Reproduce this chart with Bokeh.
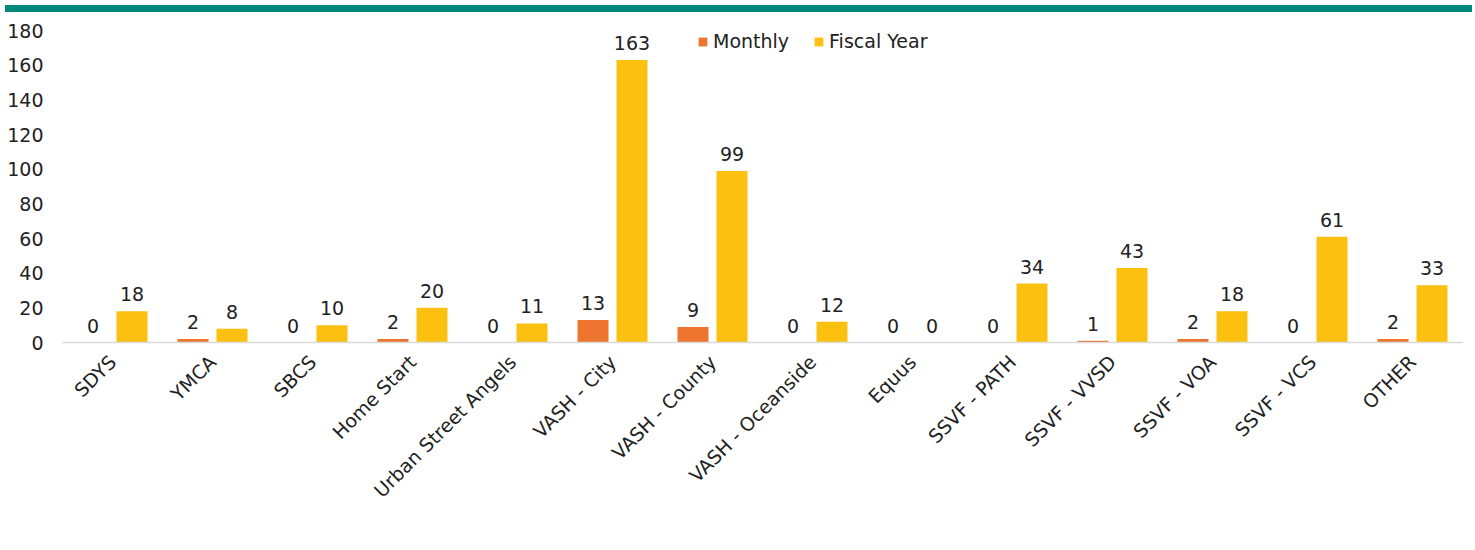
import math
from bokeh.plotting import figure
from bokeh.models import (ColumnDataSource, FactorRange, Range1d, FixedTicker,
                          Legend, LegendItem, Div, LabelSet)
from bokeh.layouts import column
from bokeh.transform import dodge
from bokeh.embed import file_html
from bokeh.resources import INLINE
from bokeh.core.properties import value

categories = ["SDYS", "YMCA", "SBCS", "Home Start", "Urban Street Angels",
              "VASH - City", "VASH - County", "VASH - Oceanside", "Equus",
              "SSVF - PATH", "SSVF - VVSD", "SSVF - VOA", "SSVF - VCS", "OTHER"]
monthly = [0, 2, 0, 2, 0, 13, 9, 0, 0, 0, 1, 2, 0, 2]
fiscal_year = [18, 8, 10, 20, 11, 163, 99, 12, 0, 34, 43, 18, 61, 33]
y_ticks = [0, 20, 40, 60, 80, 100, 120, 140, 160, 180]

FONT = "DejaVu Sans"
TEXT = "#222222"
MONTHLY_C = "#ED7530"
FISCAL_C = "#FBC010"

src = ColumnDataSource(dict(
    cat=categories, monthly=monthly, fiscal=fiscal_year,
    mlab=[str(v) for v in monthly], flab=[str(v) for v in fiscal_year]))

p = figure(x_range=FactorRange(*categories), y_range=Range1d(0, 180),
           width=1467, height=525, output_backend="svg", toolbar_location=None,
           min_border_left=62, min_border_right=5, min_border_top=13,
           min_border_bottom=200)
p.outline_line_color = None
p.xgrid.grid_line_color = None
p.ygrid.grid_line_color = None
p.x_range.range_padding = 0
p.background_fill_color = "white"
p.border_fill_color = "white"

mx = dodge("cat", -0.195, range=p.x_range)
fx = dodge("cat", 0.195, range=p.x_range)
rm = p.vbar(x=mx, top="monthly", width=0.31, source=src,
            fill_color=MONTHLY_C, line_color=None)
rf = p.vbar(x=fx, top="fiscal", width=0.31, source=src,
            fill_color=FISCAL_C, line_color=None)

for xx, col, lab in ((mx, "monthly", "mlab"), (fx, "fiscal", "flab")):
    p.add_layout(LabelSet(x=xx, y=col, text=lab, source=src,
                          text_align="center", text_baseline="bottom",
                          y_offset=10, text_font=value(FONT),
                          text_font_size="19px", text_color=TEXT))

# axes
p.yaxis.ticker = FixedTicker(ticks=y_ticks)
p.yaxis.axis_line_color = None
p.yaxis.major_tick_line_color = None
p.yaxis.minor_tick_line_color = None
p.yaxis.major_label_standoff = 13
p.yaxis.major_label_text_font = FONT
p.yaxis.major_label_text_font_size = "19px"
p.yaxis.major_label_text_color = TEXT

p.xaxis.axis_line_color = "#D9D9D9"
p.xaxis.axis_line_width = 1.5
p.xaxis.major_tick_line_color = None
p.xaxis.minor_tick_line_color = None
p.xaxis.major_label_orientation = math.pi / 4
p.xaxis.major_label_standoff = 10
p.xaxis.major_label_text_font = FONT
p.xaxis.major_label_text_font_size = "19px"
p.xaxis.major_label_text_color = TEXT

legend = Legend(items=[LegendItem(label="Monthly", renderers=[rm]),
                       LegendItem(label="Fiscal Year", renderers=[rf])],
                orientation="horizontal", location=(635, 290),
                glyph_width=11, glyph_height=11, label_standoff=5,
                spacing=24, padding=0, margin=0,
                border_line_color=None, background_fill_alpha=0,
                label_text_font=FONT, label_text_font_size="19px",
                label_text_color=TEXT)
p.add_layout(legend)

bar = Div(width=1467, height=7, styles={"background-color": "#00877E"})
layout = column(bar, p, spacing=0)

open("out.html", "w").write(file_html(layout, INLINE))
